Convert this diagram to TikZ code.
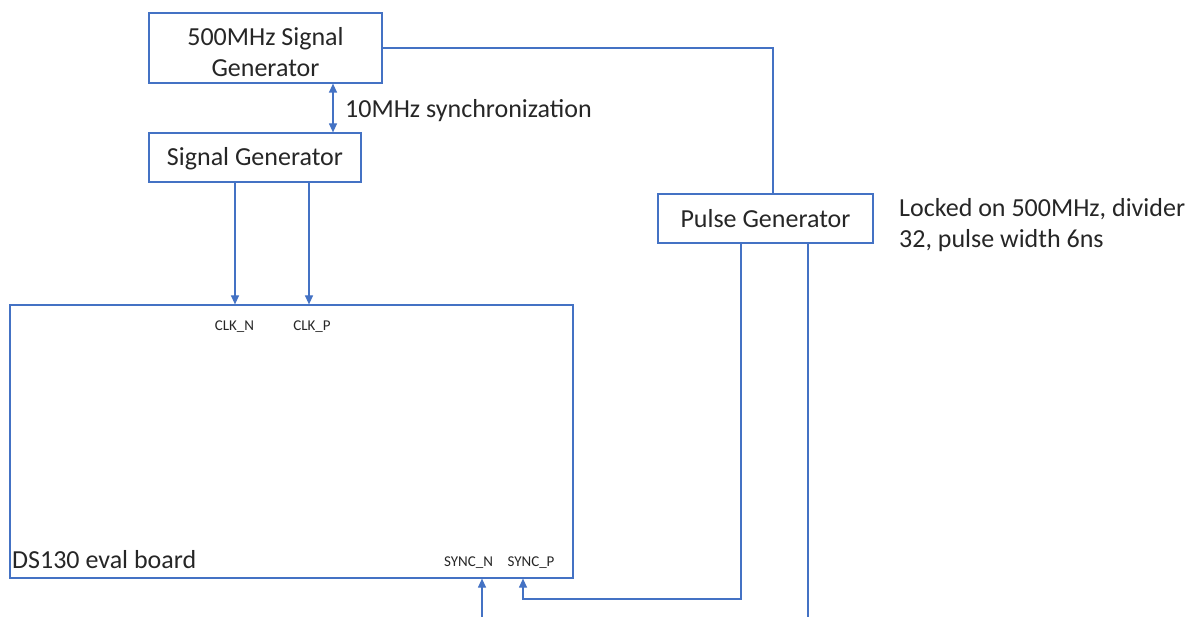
\documentclass[tikz,border=0pt]{standalone}
\usepackage{fontspec}
\setmainfont{Carlito}
\usetikzlibrary{arrows.meta,calc}
\definecolor{linkblue}{HTML}{4472C4}
\definecolor{ink}{HTML}{262626}
\begin{document}
\begin{tikzpicture}[x=1pt,y=-1pt,
  box/.style={draw=linkblue, line width=1.2pt, rectangle, inner sep=0pt, text=ink,
              font=\fontsize{26}{30.5}\selectfont, align=center},
  boxtext/.style={inner sep=0pt, text=ink, font=\fontsize{26}{30.5}\selectfont, align=center},
  pin/.style={text=ink, inner sep=0pt, font=\fontsize{15}{18}\selectfont},
  note/.style={text=ink, inner sep=0pt, font=\fontsize{26}{31}\selectfont, align=left},
  wire/.style={draw=linkblue, line width=1.2pt},
  feed/.style={wire, -{Triangle[length=9pt,width=8pt]}},
  both/.style={wire, {Triangle[length=9pt,width=8pt]}-{Triangle[length=9pt,width=8pt]}}]
\useasboundingbox (0,0) rectangle (1195,617);

% instruments and board
\node[box, minimum width=233, minimum height=70] (gen500) at (265.5,48) {};
\node[boxtext] (gen500txt) at ([yshift=-4pt]gen500.center) {500MHz Signal\\Generator};
\node[box, minimum width=212, minimum height=49] (siggen) at (255,157.5) {};
\node[boxtext] (siggentxt) at ([yshift=-1.5pt]siggen.center) {Signal Generator};
\node[box, minimum width=563, minimum height=273] (board) at (291.5,441.5) {};
\node[box, minimum width=215, minimum height=49] (pulse) at (765.5,218.5) {Pulse Generator};

% labels
\node[note, anchor=west] (synclbl) at (345,111) {10MHz synchronization};
\node[pin] (clkn) at (234.5,327) {CLK\_N};
\node[pin] (clkp) at (312,327) {CLK\_P};
\node[pin] (syncn) at (468.5,563) {SYNC\_N};
\node[pin] (syncp) at (531,563) {SYNC\_P};
\node[note, anchor=west] (boardlbl) at (12,560) {DS130 eval board};
\node[note, anchor=west] (locklbl) at (899,225.5) {Locked on 500MHz, divider\\32, pulse width 6ns};

% wire routing guides
\coordinate (xsync) at (333,0);
\coordinate (xclkn) at (235,0);
\coordinate (xclkp) at (309,0);
\coordinate (xtrig) at (773,0);
\coordinate (xsp) at (523,0);
\coordinate (xsn) at (482,0);
\coordinate (xout1) at (741,0);
\coordinate (xout2) at (808,0);
\coordinate (ybend) at (0,599);
\coordinate (yedge) at (0,617);

% connections
\draw[both] (gen500.south -| xsync) -- (siggen.north -| xsync);
\draw[feed] (siggen.south -| xclkn) -- (board.north -| xclkn);
\draw[feed] (siggen.south -| xclkp) -- (board.north -| xclkp);
\draw[wire] (gen500.east) -| (pulse.north -| xtrig);
\draw[feed] (pulse.south -| xout1) |- (xsp |- ybend) -- (board.south -| xsp);
\draw[feed] (xsn |- yedge) -- (board.south -| xsn);
\draw[wire] (pulse.south -| xout2) -- (xout2 |- yedge);
\end{tikzpicture}
\end{document}
